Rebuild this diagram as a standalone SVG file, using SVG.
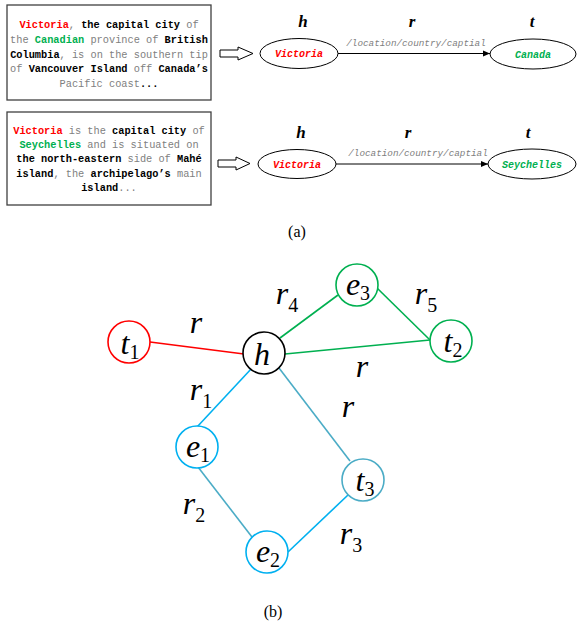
<svg xmlns="http://www.w3.org/2000/svg" width="577" height="623" viewBox="0 0 577 623">
<style>
.box{fill:#fff;stroke:#404040;stroke-width:1.3}
.t{font-family:"Liberation Mono",monospace;font-size:10.3px;fill:#808080;text-anchor:middle}
.b{font-weight:bold;fill:#000}
.red{font-weight:bold;fill:#ff0000}
.grn{font-weight:bold;fill:#00b050}
.hollow{fill:#fff;stroke:#000;stroke-width:1}
.ell{fill:#fff;stroke:#000;stroke-width:1}
.en{font-family:"Liberation Mono",monospace;font-size:10px;font-weight:bold;font-style:italic;text-anchor:middle}
.rel{font-family:"Liberation Mono",monospace;font-size:9.3px;font-style:italic;fill:#808080;text-anchor:middle}
.hrt{font-family:"Liberation Serif",serif;font-size:17px;font-weight:bold;font-style:italic;text-anchor:middle}
.cap{font-family:"Liberation Serif",serif;font-size:16px;text-anchor:middle}
.node{fill:#fff;stroke-width:1.6}
.lbl{font-family:"Liberation Serif",serif;font-size:32px;font-style:italic;text-anchor:middle;fill:#000}
.sub{font-size:20px;font-style:normal}
.edge{stroke-width:1.6;fill:none}
</style>
<defs>
<marker id="ah" markerWidth="8" markerHeight="8" refX="7" refY="4" orient="auto" markerUnits="userSpaceOnUse">
<path d="M0,1 L7,4 L0,7 Z" fill="#000"/>
</marker>
</defs>

<g id="text1">
<rect class="box" x="7" y="5" width="204" height="95"/>
<text class="t" x="109" y="28"><tspan class="red">Victoria</tspan>, <tspan class="b">the capital city</tspan> of</text>
<text class="t" x="109" y="43">the <tspan class="grn">Canadian</tspan> province of <tspan class="b">British</tspan></text>
<text class="t" x="109" y="57.5"><tspan class="b">Columbia</tspan>, is on the southern tip</text>
<text class="t" x="109" y="72">of <tspan class="b">Vancouver Island</tspan> off <tspan class="b">Canada’s</tspan></text>
<text class="t" x="109" y="87">Pacific coast<tspan class="b">...</tspan></text>
</g>

<g id="text2">
<rect class="box" x="7" y="112" width="204" height="93"/>
<text class="t" x="109" y="134"><tspan class="red">Victoria</tspan> is the <tspan class="b">capital city</tspan> of</text>
<text class="t" x="109" y="148"><tspan class="grn">Seychelles</tspan> and is situated on</text>
<text class="t" x="109" y="162"><tspan class="b">the north-eastern</tspan> side of <tspan class="b">Mahé</tspan></text>
<text class="t" x="109" y="177"><tspan class="b">island</tspan>, the <tspan class="b">archipelago’s</tspan> main</text>
<text class="t" x="109" y="191"><tspan class="b">island</tspan>...</text>
</g>

<g id="arrow1">
<polygon class="hollow" points="220,50 238,50 238,47 253,53.5 238,60 238,57 220,57"/>
</g>
<g id="arrow2">
<polygon class="hollow" points="218,160 236,160 236,157 250,163.5 236,170 236,167 218,167"/>
</g>

<g id="triple1">
<text class="hrt" x="303" y="27">h</text>
<text class="hrt" x="412" y="27">r</text>
<text class="hrt" x="532" y="27">t</text>
</g>
<g id="triple2">
<text class="hrt" x="301" y="138">h</text>
<text class="hrt" x="408" y="138">r</text>
<text class="hrt" x="528" y="138">t</text>
</g>

<g id="connectors-top">
<line x1="338" y1="53.5" x2="490" y2="53.5" stroke="#000" stroke-width="1" marker-end="url(#ah)"/>
<text class="rel" x="416" y="46">/location/country/captial</text>
<line x1="336" y1="164" x2="488" y2="164" stroke="#000" stroke-width="1" marker-end="url(#ah)"/>
<text class="rel" x="418" y="156">/location/country/captial</text>
</g>

<g id="victoria1">
<ellipse class="ell" cx="299" cy="53.5" rx="39" ry="15"/>
<text class="en" x="299" y="57" fill="#ff0000">Victoria</text>
</g>
<g id="canada">
<ellipse class="ell" cx="533" cy="54" rx="43" ry="15"/>
<text class="en" x="533" y="58" fill="#00b050">Canada</text>
</g>
<g id="victoria2">
<ellipse class="ell" cx="297" cy="164" rx="39" ry="14.5"/>
<text class="en" x="297" y="168" fill="#ff0000">Victoria</text>
</g>
<g id="seychelles">
<ellipse class="ell" cx="532" cy="164" rx="44" ry="15"/>
<text class="en" x="532" y="168" fill="#00b050">Seychelles</text>
</g>

<text class="cap" x="297" y="237">(a)</text>

<g id="connectors">
<line class="edge" stroke="#ff0000" x1="150" y1="342" x2="244" y2="354"/>
<line class="edge" stroke="#00b050" x1="280" y1="338" x2="338" y2="295"/>
<line class="edge" stroke="#00b050" x1="377" y1="288" x2="430" y2="340"/>
<line class="edge" stroke="#00b050" x1="285" y1="354" x2="430" y2="340"/>
<line class="edge" stroke="#00b0f0" x1="252" y1="368" x2="197" y2="427"/>
<line class="edge" stroke="#4bacc6" x1="279" y1="368" x2="350" y2="461"/>
<line class="edge" stroke="#4bacc6" x1="198" y1="467" x2="252" y2="537"/>
<line class="edge" stroke="#00b0f0" x1="288" y1="552" x2="348" y2="495"/>
<text class="lbl" x="196" y="333">r</text>
<text class="lbl" x="287" y="304">r<tspan class="sub" dy="8">4</tspan></text>
<text class="lbl" x="426" y="304">r<tspan class="sub" dy="8">5</tspan></text>
<text class="lbl" x="362" y="377">r</text>
<text class="lbl" x="201" y="400">r<tspan class="sub" dy="8">1</tspan></text>
<text class="lbl" x="348" y="417">r</text>
<text class="lbl" x="194" y="514">r<tspan class="sub" dy="8">2</tspan></text>
<text class="lbl" x="351" y="544">r<tspan class="sub" dy="8">3</tspan></text>
</g>

<g id="t1">
<circle class="node" stroke="#ff0000" cx="129" cy="342" r="21"/>
<text class="lbl" x="130" y="354">t<tspan class="sub" dy="5">1</tspan></text>
</g>
<g id="h">
<circle class="node" stroke="#000" cx="264" cy="353" r="21"/>
<text class="lbl" x="262" y="365">h</text>
</g>
<g id="e3">
<circle class="node" stroke="#00b050" cx="357" cy="285" r="21"/>
<text class="lbl" x="358" y="295">e<tspan class="sub" dy="5">3</tspan></text>
</g>
<g id="t2">
<circle class="node" stroke="#00b050" cx="451" cy="341" r="21"/>
<text class="lbl" x="453" y="352">t<tspan class="sub" dy="5">2</tspan></text>
</g>
<g id="e1">
<circle class="node" stroke="#00b0f0" cx="197" cy="447" r="21"/>
<text class="lbl" x="198" y="457">e<tspan class="sub" dy="5">1</tspan></text>
</g>
<g id="t3">
<circle class="node" stroke="#4bacc6" cx="363" cy="480" r="21"/>
<text class="lbl" x="365" y="491">t<tspan class="sub" dy="5">3</tspan></text>
</g>
<g id="e2">
<circle class="node" stroke="#00b0f0" cx="267" cy="552" r="21"/>
<text class="lbl" x="268" y="562">e<tspan class="sub" dy="5">2</tspan></text>
</g>

<text class="cap" x="273" y="617">(b)</text>
</svg>
